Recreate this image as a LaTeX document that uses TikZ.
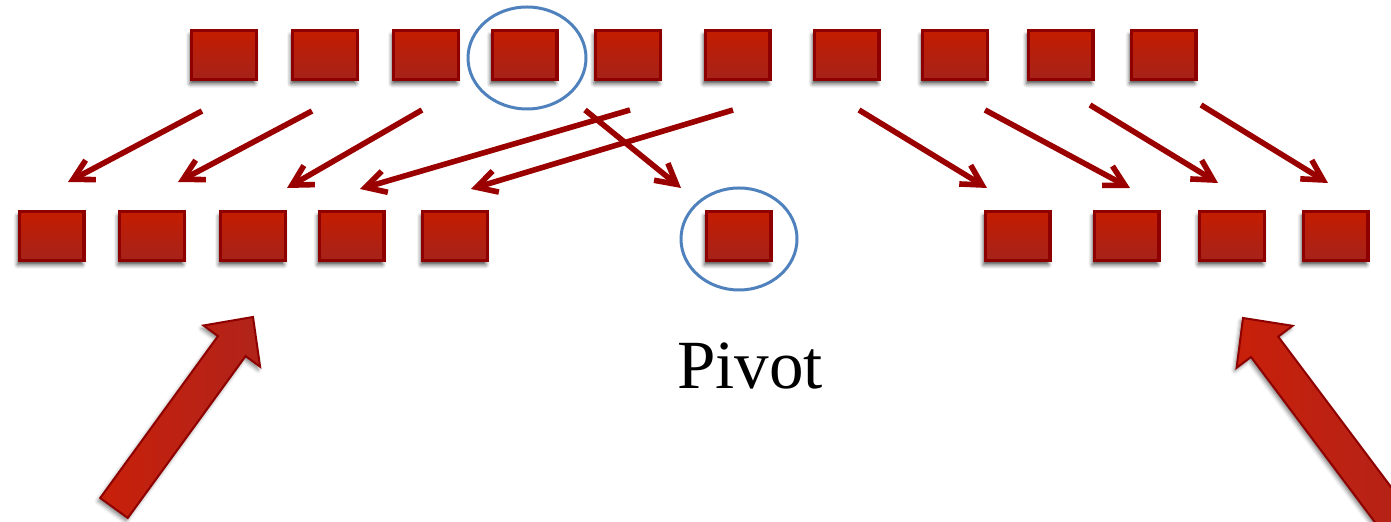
\documentclass[tikz,border=0pt]{standalone}
\usepackage{fontspec}
\setmainfont{Liberation Serif}
\usetikzlibrary{arrows.meta,shadows.blur}

\definecolor{boxtop}{HTML}{C41C00}
\definecolor{boxbot}{HTML}{A5231A}
\definecolor{boxedge}{HTML}{8E0000}
\definecolor{arrowred}{HTML}{9B0000}
\definecolor{ringblue}{HTML}{4F81BD}
\definecolor{bigleft}{HTML}{C8200A}
\definecolor{bigright}{HTML}{B0231A}

\tikzset{
  elem/.style={draw=boxedge, line width=1.6pt, top color=boxtop, bottom color=boxbot,
    minimum width=32.4pt, minimum height=24.4pt, inner sep=0pt,
    blur shadow={shadow xshift=-0.8pt, shadow yshift=-2.2pt, shadow blur radius=2pt, shadow opacity=70}},
  move/.style={draw=arrowred, line width=2.8pt, -{Straight Barb[length=10pt,width=11pt]}},
  ring/.style={draw=ringblue, line width=1.5pt},
  bigarrow/.style={draw=boxedge, line width=1pt, left color=bigleft, right color=bigright,
    blur shadow={shadow xshift=-1pt, shadow yshift=-1.5pt, shadow blur radius=2pt, shadow opacity=50}}
}

\begin{document}
\begin{tikzpicture}[x=0.5pt, y=-0.5pt]
        \useasboundingbox (0,0) rectangle (1391,522);
        % array before partitioning
        \node[elem] (t1) at (224,55) {};
        \node[elem] (t2) at (325,55) {};
        \node[elem] (t3) at (426,55) {};
        \node[elem] (t4) at (524.5,55) {};
        \node[elem] (t5) at (628,55) {};
        \node[elem] (t6) at (737.5,55) {};
        \node[elem] (t7) at (846.5,55) {};
        \node[elem] (t8) at (955,55) {};
        \node[elem] (t9) at (1060.5,55) {};
        \node[elem] (t10) at (1163.5,55) {};
        \draw[ring] (527,58) ellipse [x radius=29.5pt, y radius=25.5pt];

        % array after partitioning
        \node[elem] (b1) at (51.5,236) {};
        \node[elem] (b2) at (152,236) {};
        \node[elem] (b3) at (253,236) {};
        \node[elem] (b4) at (351.5,236) {};
        \node[elem] (b5) at (455,236) {};
        \node[elem] (pivot) at (738.5,236) {};
        \node[elem] (b7) at (1017.5,236) {};
        \node[elem] (b8) at (1126.5,236) {};
        \node[elem] (b9) at (1232,236) {};
        \node[elem] (b10) at (1335.5,236) {};
        \draw[ring] (739,239) ellipse [x radius=29pt, y radius=25.5pt];
        \node[anchor=base] (pivotlabel) at (750,389) {\fontsize{34.5}{40}\selectfont Pivot};

        % where each element moves
        \coordinate (s1) at (202,111);   \coordinate (e1) at (68,182);
        \coordinate (s2) at (312,111);   \coordinate (e2) at (178,182);
        \coordinate (s3) at (422,110);   \coordinate (e3) at (287,188);
        \coordinate (s4) at (630,110);   \coordinate (e4) at (360,189);
        \coordinate (s5) at (733,110);   \coordinate (e5) at (471,189);
        \coordinate (s6) at (585,110);   \coordinate (e6) at (681,188);
        \coordinate (s7) at (859,110);   \coordinate (e7) at (987,188);
        \coordinate (s8) at (985,110);   \coordinate (e8) at (1130,188);
        \coordinate (s9) at (1090,105);  \coordinate (e9) at (1218,183);
        \coordinate (s10) at (1201,105); \coordinate (e10) at (1328,183);
        \draw[move] (s1) -- (e1);
        \draw[move] (s2) -- (e2);
        \draw[move] (s3) -- (e3);
        \draw[move] (s4) -- (e4);
        \draw[move] (s5) -- (e5);
        \draw[move] (s6) -- (e6);
        \draw[move] (s7) -- (e7);
        \draw[move] (s8) -- (e8);
        \draw[move] (s9) -- (e9);
        \draw[move] (s10) -- (e10);

        % the two sub-arrays to sort next
        \path[bigarrow] (100.2,498) -- (218,336.1) -- (203.5,325.5) -- (253,317)
            -- (260.1,366.7) -- (245.6,356.1) -- (127.8,518) -- cycle;
        \begin{scope}
            \clip (0,0) rectangle (1391,522);
            \path[bigarrow] (1436.6,547.8) -- (1278.2,336.6) -- (1292.6,325.8) -- (1243,318)
                -- (1236.6,367.8) -- (1251,357) -- (1409.4,568.2) -- cycle;
        \end{scope}
\end{tikzpicture}
\end{document}
